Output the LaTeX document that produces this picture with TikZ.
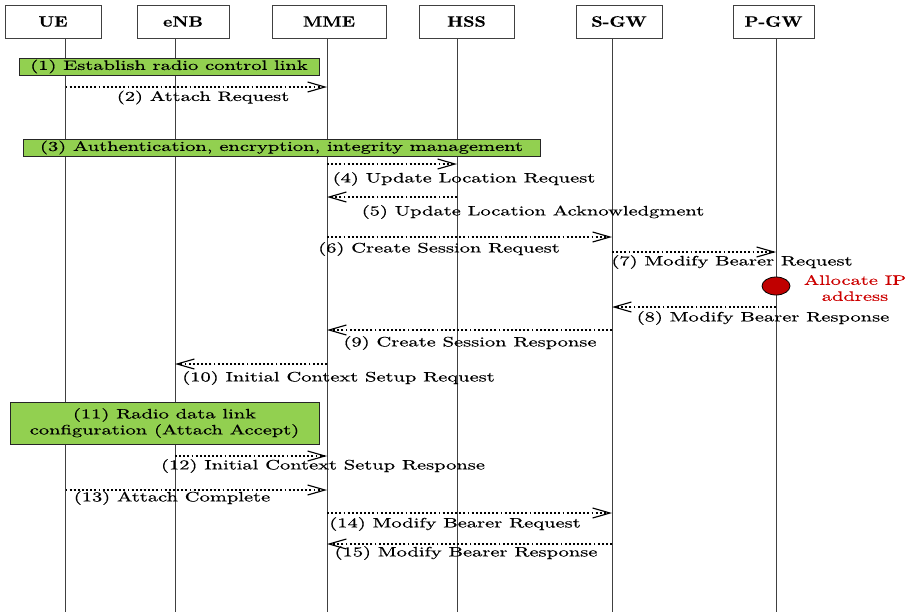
\documentclass[tikz,border=0pt]{standalone}
\usepackage{fontspec}
\setmainfont{lmroman10-regular}[Extension=.otf, BoldFont=lmroman10-bold, FakeStretch=1.5, FakeBold=0.5]
\newfontfamily\headfont{lmroman10-bold}[Extension=.otf, FakeStretch=1.18, FakeBold=0.4]
\usetikzlibrary{arrows.meta,shapes.geometric}
\definecolor{stepgreen}{RGB}{146,208,80}
\definecolor{allocred}{RGB}{192,0,0}
\definecolor{alloctext}{RGB}{204,0,0}
\tikzset{
  actor/.style={draw=black!75, line width=0.7pt, fill=white,
    font=\headfont\fontsize{11.3}{13}\selectfont,
    minimum height=24.75pt, inner sep=0pt},
  lifeline/.style={draw=black!75, line width=0.75pt},
  phase/.style={draw=black!85, line width=0.6pt, fill=stepgreen, inner sep=0pt, align=center},
  msg/.style={line width=0.95pt, dash pattern=on 1.4pt off 1.7pt,
    -{Straight Barb[length=13pt,width=7.5pt,line width=0.85pt]}},
  msglabel/.style={inner sep=0pt},
}
\begin{document}
\begin{tikzpicture}[x=0.75pt, y=-0.75pt, font=\fontsize{10.25}{12}\selectfont]
\useasboundingbox (0,0) rectangle (913,612);

% participants
\node[actor, minimum width=72pt]    (UE)   at (53,21.5)    {UE};
\node[actor, minimum width=69pt]    (eNB)  at (183,21.5)   {eNB};
\node[actor, minimum width=85.5pt]  (MME)  at (329,21.5)   {MME};
\node[actor, minimum width=71.25pt] (HSS)  at (466.5,21.5) {HSS};
\node[actor, minimum width=64.5pt]  (SGW)  at (619,21.5)   {S-GW};
\node[actor, minimum width=60.75pt] (PGW)  at (773.5,21.5) {P-GW};

% lifeline anchors
\coordinate (ueL)  at (65.5,38);
\coordinate (enbL) at (175,38);
\coordinate (mmeL) at (327,38);
\coordinate (hssL) at (457,38);
\coordinate (sgwL) at (612,38);
\coordinate (pgwL) at (776,38);

\foreach \p in {ueL,enbL,mmeL,hssL,sgwL,pgwL}
  \draw[lifeline] (\p) -- (\p |- 0,612);

% phases
\node[phase, minimum width=225pt, minimum height=12.75pt] (ph1) at (169,66.5)
  {(1) Establish radio control link};
\node[phase, minimum width=387.75pt, minimum height=12.75pt] (ph3) at (281.5,147.5)
  {(3) Authentication, encryption, integrity management};
\node[phase, minimum width=231.75pt, minimum height=31.5pt] (ph11) at (164.5,423)
  {(11) Radio data link\\configuration (Attach Accept)};

% messages
\draw[msg] (ueL |- 0,87)   -- (mmeL |- 0,87);
\node[msglabel] (l2) at (203,97.5) {(2) Attach Request};

\draw[msg] (mmeL |- 0,164) -- (hssL |- 0,164);
\node[msglabel] (l4) at (464,179) {(4) Update Location Request};

\draw[msg] (hssL |- 0,197) -- (mmeL |- 0,197);
\node[msglabel] (l5) at (533,212) {(5) Update Location Acknowledgment};

\draw[msg] (mmeL |- 0,237) -- (sgwL |- 0,237);
\node[msglabel] (l6) at (439,249) {(6) Create Session Request};

\draw[msg] (sgwL |- 0,252) -- (pgwL |- 0,252);
\node[msglabel] (l7) at (732,262) {(7) Modify Bearer Request};

% address allocation at the P-GW
\node[ellipse, draw=black, line width=0.6pt, fill=allocred, minimum width=21pt,
  minimum height=13.5pt, inner sep=0pt] (alloc) at (776,286) {};
\node[text=alloctext, align=center, inner sep=0pt] (allocT) at (855,288)
  {Allocate IP\\address};

\draw[msg] (pgwL |- 0,307) -- (sgwL |- 0,307);
\node[msglabel] (l8) at (763,318) {(8) Modify Bearer Response};

\draw[msg] (sgwL |- 0,330) -- (mmeL |- 0,330);
\node[msglabel] (l9) at (470,343) {(9) Create Session Response};

\draw[msg] (mmeL |- 0,364) -- (enbL |- 0,364);
\node[msglabel] (l10) at (338.5,378) {(10) Initial Context Setup Request};

\draw[msg] (enbL |- 0,456) -- (mmeL |- 0,456);
\node[msglabel] (l12) at (323,466) {(12) Initial Context Setup Response};

\draw[msg] (ueL |- 0,490)  -- (mmeL |- 0,490);
\node[msglabel] (l13) at (172,498) {(13) Attach Complete};

\draw[msg] (mmeL |- 0,513) -- (sgwL |- 0,513);
\node[msglabel] (l14) at (455,524) {(14) Modify Bearer Request};

\draw[msg] (sgwL |- 0,544) -- (mmeL |- 0,544);
\node[msglabel] (l15) at (466,553) {(15) Modify Bearer Response};
\end{tikzpicture}
\end{document}
